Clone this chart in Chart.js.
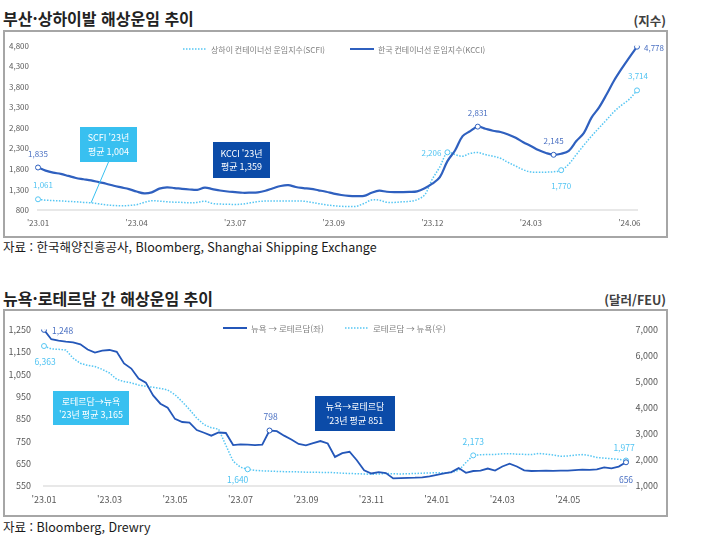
<!DOCTYPE html>
<html lang="ko">
<head>
<meta charset="utf-8">
<script src="https://cdn.jsdelivr.net/npm/chart.js@4.4.1/dist/chart.umd.min.js"></script>
<style>
  body { margin: 0; width: 710px; height: 546px; background: #fff; position: relative; overflow: hidden;
         font-family: "Noto Sans CJK KR", "Noto Sans", sans-serif; color: #222; }
  .title { position: absolute; left: 3px; font-size: 16px; font-weight: 700; line-height: 18px; }
  .unit { position: absolute; right: 44px; font-size: 12.5px; font-weight: 700; line-height: 18px; color: #404040; }
  .src { position: absolute; left: 3px; font-size: 12.5px; line-height: 18px; color: #1a1a1a; }
  .box { position: absolute; left: 3px; width: 665px; height: 208px; border: 2px solid #a6a6a6; box-sizing: border-box; }
  .wrap { position: relative; width: 661px; height: 204px; }
</style>
</head>
<body>
<div class="title" style="top:9px">부산·상하이발 해상운임 추이</div>
<div class="unit" style="top:12px">(지수)</div>
<div class="box" style="top:30px"><div class="wrap"><canvas id="chart1"></canvas></div></div>
<div class="src" style="top:238px">자료 : 한국해양진흥공사, Bloomberg, Shanghai Shipping Exchange</div>

<div class="title" style="top:289px">뉴욕·로테르담 간 해상운임 추이</div>
<div class="unit" style="top:291px">(달러/FEU)</div>
<div class="box" style="top:309px"><div class="wrap"><canvas id="chart2"></canvas></div></div>
<div class="src" style="top:518px">자료 : Bloomberg, Drewry</div>

<script>
// weekly index values, '23.01 ~ '24.06
const kcci = [1835,1760,1710,1680,1630,1580,1550,1520,1480,1440,
    1390,1350,1310,1250,1205,1230,1320,1350,1335,1315,
    1300,1290,1345,1310,1275,1250,1235,1220,1222,1230,
    1270,1330,1385,1405,1360,1335,1315,1280,1245,1200,
    1165,1145,1140,1145,1220,1270,1245,1236,1236,1240,
    1255,1330,1440,1600,1990,2250,2600,2720,2831,2780,
    2730,2700,2640,2560,2450,2360,2260,2190,2145,2170,
    2240,2480,2680,3050,3300,3620,3960,4250,4520,4778];
const scfi = [1061,1040,1030,1020,1010,1000,985,975,950,925,
    910,905,910,930,985,1025,1015,1000,990,985,
    975,985,1015,960,945,940,935,945,975,1005,
    1018,1020,1020,1020,1018,1015,990,955,925,905,
    890,885,890,960,1045,1040,990,985,1000,1010,
    1050,1170,1550,1850,2206,2150,2110,2180,2200,2150,
    2110,2060,1960,1870,1780,1725,1720,1722,1730,1770,
    1915,2150,2380,2600,2800,3000,3200,3360,3500,3714];
const xTicks1 = ["'23.01", "'23.04", "'23.07", "'23.09", "'23.12", "'24.03", "'24.06"];
const tickEvery1 = 13;
const kcciMarks = [0, 58, 68, 79];
const scfiMarks = [0, 54, 69, 79];

// weekly freight, $/FEU
const nyToRtm = [1248,1206,1200,1195,1192,1183,1160,1146,1155,1158,
    1150,1098,1075,1030,1012,955,918,900,850,836,
    833,800,788,775,789,787,733,736,735,733,
    735,798,795,775,758,738,732,742,751,740,
    680,697,703,665,620,606,612,608,584,585,
    586,587,589,593,600,606,612,630,609,617,
    619,628,619,637,650,637,620,617,618,619,
    618,619,619,621,623,622,624,633,629,637,
    656];
const rtmToNy = [6363,6253,6235,6210,5900,5700,5620,5576,5470,5330,
    5086,5000,4950,4870,4820,4780,4740,4680,4500,4230,
    3930,3600,3350,3230,3180,2560,1950,1720,1640,1600,
    1580,1570,1560,1550,1550,1540,1530,1530,1520,1520,
    1510,1490,1480,1470,1460,1450,1460,1480,1470,1460,
    1470,1480,1490,1500,1510,1500,1520,1600,1900,2173,
    2200,2204,2210,2235,2240,2220,2212,2205,2250,2220,
    2190,2140,2150,2185,2204,2165,2090,2070,2045,2020,
    1977];
const xTicks2 = ["'23.01", "'23.03", "'23.05", "'23.07", "'23.09", "'23.11", "'24.01", "'24.03", "'24.05"];
const tickEvery2 = 9;
const nyMarks = [0, 31, 80];
const rtmMarks = [0, 28, 59, 80];

const FONT = '"Noto Sans CJK KR", "Noto Sans", sans-serif';
const DARK = '#2f60bf';
const LIGHT = '#56c6f3';

const makeLabels = (n, ticks, every) =>
    Array.from({length: n}, (_, i) => i % every === 0 && ticks[i / every] ? ticks[i / every] : '');

// legend, callout boxes and value labels drawn on top of the lines
const deco = {
    id: 'deco',
    afterDatasetsDraw(chart, args, o) {
        const ctx = chart.ctx;
        ctx.save();
        ctx.textBaseline = 'middle';

        o.legend.forEach(l => {
            ctx.strokeStyle = l.color;
            ctx.lineWidth = l.width;
            ctx.setLineDash(l.dash || []);
            ctx.beginPath();
            ctx.moveTo(l.x, l.y);
            ctx.lineTo(l.x + 24, l.y);
            ctx.stroke();
            ctx.setLineDash([]);
            ctx.fillStyle = '#7f7f7f';
            ctx.font = o.legendFont;
            ctx.textAlign = 'left';
            ctx.fillText(l.text, l.x + 28, l.y + 0.5);
        });

        o.notes.forEach(n => {
            if (n.pointer) {
                const p = chart.getDatasetMeta(n.pointer[0]).data[n.pointer[1]];
                ctx.strokeStyle = n.fill;
                ctx.lineWidth = 1;
                ctx.beginPath();
                ctx.moveTo(n.x + n.w / 2, n.y + n.h);
                ctx.lineTo(p.x, p.y);
                ctx.stroke();
            }
            ctx.fillStyle = n.fill;
            ctx.fillRect(n.x, n.y, n.w, n.h);
            ctx.fillStyle = '#fff';
            ctx.font = o.noteFont;
            ctx.textAlign = 'center';
            n.lines.forEach((t, k) => {
                ctx.fillText(t, n.x + n.w / 2, n.y + n.h / 2 + (k - (n.lines.length - 1) / 2) * 13.5);
            });
        });

        ctx.font = o.valueFont;
        o.values.forEach(m => {
            const v = chart.data.datasets[m.ds].data[m.i];
            const p = chart.getDatasetMeta(m.ds).data[m.i];
            ctx.fillStyle = m.ds === o.lightDs ? '#4fc3f2' : '#4a70c2';
            ctx.textAlign = m.align || 'center';
            ctx.fillText(v.toLocaleString('en-US'), p.x + m.dx, p.y + m.dy);
        });
        ctx.restore();
    }
};

const markRadius = marks => c => marks.includes(c.dataIndex) ? 2.5 : 0;

new Chart(document.getElementById('chart1'), {
    type: 'line',
    data: {
        labels: makeLabels(kcci.length, xTicks1, tickEvery1),
        datasets: [{
            label: '한국 컨테이너선 운임지수(KCCI)',
            data: kcci,
            borderColor: DARK,
            borderWidth: 2.2,
            tension: 0.35,
            pointRadius: markRadius(kcciMarks),
            pointBackgroundColor: '#fff',
            pointBorderColor: DARK,
            pointBorderWidth: 1,
            order: 1
        }, {
            label: '상하이 컨테이너선 운임지수(SCFI)',
            data: scfi,
            borderColor: LIGHT,
            borderWidth: 1.5,
            borderDash: [1.5, 1.5],
            tension: 0.35,
            pointRadius: markRadius(scfiMarks),
            pointBackgroundColor: '#fff',
            pointBorderColor: LIGHT,
            pointBorderWidth: 1,
            order: 2
        }]
    },
    options: {
        responsive: true,
        maintainAspectRatio: false,
        devicePixelRatio: 1,
        animation: false,
        locale: 'en-US',
        layout: {padding: {top: 13, bottom: 6, left: 0, right: 29}},
        plugins: {
            legend: {display: false},
            tooltip: {enabled: false},
            deco: {
                legendFont: `8px ${FONT}`,
                noteFont: `9px ${FONT}`,
                valueFont: `8px ${FONT}`,
                lightDs: 1,
                legend: [
                    {x: 178, y: 17, color: LIGHT, width: 1.5, dash: [1.5, 1.5], text: '상하이 컨테이너선 운임지수(SCFI)'},
                    {x: 345, y: 17, color: DARK, width: 2, text: '한국 컨테이너선 운임지수(KCCI)'}
                ],
                notes: [
                    {x: 75, y: 95, w: 57, h: 35, fill: '#38c0f0', lines: ["SCFI '23년", '평균 1,004'], pointer: [1, 7]},
                    {x: 208, y: 110, w: 57, h: 36, fill: '#0b4ba8', lines: ["KCCI '23년", '평균 1,359']}
                ],
                values: [
                    {ds: 0, i: 0, dx: 0, dy: -14},
                    {ds: 1, i: 0, dx: 5, dy: -14},
                    {ds: 0, i: 58, dx: 0, dy: -14},
                    {ds: 0, i: 68, dx: 0, dy: -14},
                    {ds: 1, i: 54, dx: -6, dy: 1, align: 'right'},
                    {ds: 1, i: 69, dx: 0, dy: 16},
                    {ds: 0, i: 79, dx: 7, dy: 1, align: 'left'},
                    {ds: 1, i: 79, dx: 1, dy: -14}
                ]
            }
        },
        scales: {
            x: {
                grid: {display: false, drawTicks: false},
                border: {display: true, color: '#e8e8e8', width: 2},
                ticks: {autoSkip: false, maxRotation: 0, padding: 8, color: '#595959', font: {family: FONT, size: 8}},
                afterFit: s => { s.height = 20; }
            },
            y: {
                min: 800, max: 4800,
                grid: {display: false, drawTicks: false},
                border: {display: false},
                ticks: {stepSize: 500, padding: 9, color: '#595959', font: {family: FONT, size: 8}},
                afterFit: s => { s.width = 33; }
            }
        }
    },
    plugins: [deco]
});

new Chart(document.getElementById('chart2'), {
    type: 'line',
    data: {
        labels: makeLabels(nyToRtm.length, xTicks2, tickEvery2),
        datasets: [{
            label: '뉴욕 → 로테르담(좌)',
            data: nyToRtm,
            yAxisID: 'y',
            borderColor: '#2457b9',
            borderWidth: 1.8,
            tension: 0,
            pointRadius: markRadius(nyMarks),
            pointBackgroundColor: '#fff',
            pointBorderColor: '#2457b9',
            pointBorderWidth: 1,
            order: 1
        }, {
            label: '로테르담 → 뉴욕(우)',
            data: rtmToNy,
            yAxisID: 'y1',
            borderColor: LIGHT,
            borderWidth: 1.5,
            borderDash: [1.5, 1.5],
            tension: 0,
            pointRadius: markRadius(rtmMarks),
            pointBackgroundColor: '#fff',
            pointBorderColor: LIGHT,
            pointBorderWidth: 1,
            order: 2
        }]
    },
    options: {
        responsive: true,
        maintainAspectRatio: false,
        devicePixelRatio: 1,
        animation: false,
        locale: 'en-US',
        layout: {padding: {top: 12, bottom: 9, left: 0, right: 8}},
        plugins: {
            legend: {display: false},
            tooltip: {enabled: false},
            deco: {
                legendFont: `8.5px ${FONT}`,
                noteFont: `9px ${FONT}`,
                valueFont: `8.5px ${FONT}`,
                lightDs: 1,
                legend: [
                    {x: 218, y: 17, color: '#2457b9', width: 2, text: '뉴욕 → 로테르담(좌)'},
                    {x: 340, y: 17, color: LIGHT, width: 1.5, dash: [1.5, 1.5], text: '로테르담 → 뉴욕(우)'}
                ],
                notes: [
                    {x: 48, y: 80, w: 76, h: 34, fill: '#38c0f0', lines: ['로테르담→뉴욕', "'23년 평균 3,165"]},
                    {x: 310, y: 85, w: 80, h: 35, fill: '#0b4ba8', lines: ['뉴욕→로테르담', "'23년 평균 851"]}
                ],
                values: [
                    {ds: 0, i: 0, dx: 8, dy: 1, align: 'left'},
                    {ds: 1, i: 0, dx: 1, dy: 16},
                    {ds: 0, i: 31, dx: 1, dy: -14},
                    {ds: 1, i: 28, dx: -10, dy: 10},
                    {ds: 1, i: 59, dx: 0, dy: -14},
                    {ds: 1, i: 80, dx: -2, dy: -13},
                    {ds: 0, i: 80, dx: 0, dy: 17}
                ]
            }
        },
        scales: {
            x: {
                grid: {display: false, drawTicks: false},
                border: {display: true, color: '#e8e8e8', width: 2},
                ticks: {autoSkip: false, maxRotation: 0, padding: 8, color: '#595959', font: {family: FONT, size: 9}},
                afterFit: s => { s.height = 20; }
            },
            y: {
                position: 'left',
                min: 550, max: 1250,
                grid: {display: false, drawTicks: false},
                border: {display: false},
                ticks: {stepSize: 100, padding: 13, color: '#595959', font: {family: FONT, size: 9}},
                afterFit: s => { s.width = 39; }
            },
            y1: {
                position: 'right',
                min: 1000, max: 7000,
                grid: {display: false, drawTicks: false},
                border: {display: false},
                ticks: {stepSize: 1000, crossAlign: 'far', color: '#595959', font: {family: FONT, size: 9}},
                afterFit: s => { s.width = 32; }
            }
        }
    },
    plugins: [deco]
});
</script>
</body>
</html>
